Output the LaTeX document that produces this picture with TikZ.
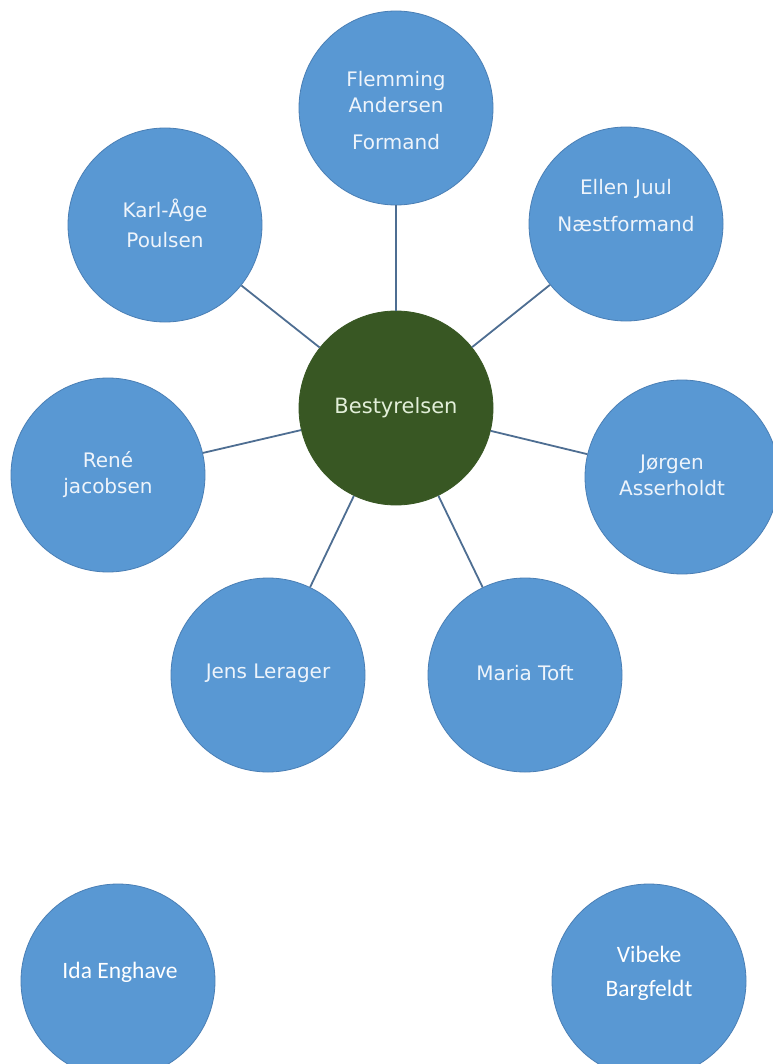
\documentclass[tikz,border=0pt]{standalone}
\usepackage{fontspec}
\setmainfont{DejaVu Sans}
\newfontfamily\calib{Carlito}
\definecolor{pblue}{HTML}{5998D3}
\definecolor{pedge}{HTML}{4A7FB5}
\definecolor{dgreen}{HTML}{385723}
\definecolor{lcol}{HTML}{4E6E92}
\definecolor{tcol}{HTML}{EEF4FB}
\definecolor{gtext}{HTML}{E2EFD9}
\begin{document}
\begin{tikzpicture}[x=1pt,y=-1pt,
  person/.style={circle, fill=pblue, draw=pedge, line width=0.8pt, minimum size=194pt, inner sep=0pt},
  chair/.style={circle, fill=dgreen, draw=dgreen, line width=0.8pt, minimum size=194pt, inner sep=0pt},
  conn/.style={draw=lcol, line width=1.8pt},
  txt/.style={text=tcol, font=\fontsize{20}{26}\selectfont, align=center, inner sep=0pt},
  ctxt/.style={text=white, font=\calib\fontsize{23.5}{34}\selectfont, align=center, inner sep=0pt}]
\useasboundingbox (0,0) rectangle (772,1064);
\fill[white] (0,0) rectangle (772,1064);
% circles
\node[chair]  (best)  at (396,408) {};
\node[person] (flem)  at (396,108) {};
\node[person] (ellen) at (626,224) {};
\node[person] (karl)  at (165,225) {};
\node[person] (rene)  at (108,475) {};
\node[person] (jorg)  at (682,477) {};
\node[person] (jens)  at (268,675) {};
\node[person] (maria) at (525,675) {};
\node[person] (ida)   at (118,981) {};
\node[person] (vib)   at (649,981) {};
% connectors
\draw[conn] (best) -- (flem);
\draw[conn] (best) -- (ellen);
\draw[conn] (best) -- (karl);
\draw[conn] (best) -- (rene);
\draw[conn] (best) -- (jorg);
\draw[conn] (best) -- (jens);
\draw[conn] (best) -- (maria);
% texts
\node[txt, text=gtext, font=\fontsize{21}{26}\selectfont] (best-t) at (396,408) {Bestyrelsen};
\node[txt] (flem-t)  at (396,111) {Flemming\\Andersen\\[11pt]Formand};
\node[txt] (ellen-t) at (626,206) {Ellen Juul\\[11pt]Næstformand};
\node[txt] (karl-t)  at (165,223) {Karl-Åge\\[4pt]Poulsen};
\node[txt] (rene-t)  at (108,475) {René\\jacobsen};
\node[txt] (jorg-t)  at (672,475) {Jørgen\\Asserholdt};
\node[txt] (jens-t)  at (268,673) {Jens Lerager};
\node[txt] (maria-t) at (525,673) {Maria Toft};
\node[ctxt] (ida-t)  at (120,972) {Ida Enghave};
\node[ctxt] (vib-t)  at (649,973) {Vibeke\\Bargfeldt};
\end{tikzpicture}
\end{document}
